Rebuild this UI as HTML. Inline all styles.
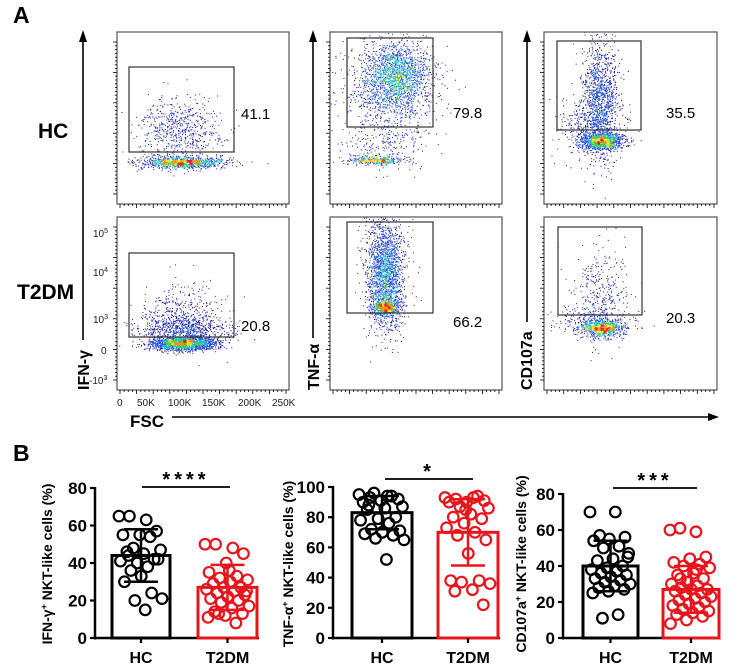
<!DOCTYPE html>
<html><head><meta charset="utf-8"><style>
html,body{margin:0;padding:0;background:#fff;}
svg{display:block;font-family:"Liberation Sans",Arial,sans-serif;}
</style></head><body>
<svg id="s" width="739" height="668" viewBox="0 0 739 668" xmlns="http://www.w3.org/2000/svg">
<defs id="defs"></defs>
<g id="dots"></g>
<g id="fg" stroke="#000" fill="none"></g>
<g font-weight="bold" fill="#000">
<text x="13" y="23" font-size="23">A</text>
<text x="13" y="461" font-size="23">B</text>
<text x="38" y="138" font-size="21">HC</text>
<text x="17" y="299" font-size="21">T2DM</text>
<text x="130" y="427" font-size="17">FSC</text>
<text transform="translate(89,390) rotate(-90)" font-size="16">IFN-γ</text>
<text transform="translate(319,390) rotate(-90)" font-size="16">TNF-α</text>
<text transform="translate(532,390) rotate(-90)" font-size="16">CD107a</text>
</g>
<g font-size="15" fill="#000">
<text x="241" y="119">41.1</text><text x="241" y="331">20.8</text>
<text x="453" y="118">79.8</text><text x="453" y="327">66.2</text>
<text x="666" y="118">35.5</text><text x="666" y="323">20.3</text>
</g>
<g font-size="10" fill="#222">
<text x="93" y="237">10<tspan dy="-4" font-size="7">5</tspan></text>
<text x="93" y="276">10<tspan dy="-4" font-size="7">4</tspan></text>
<text x="93" y="323">10<tspan dy="-4" font-size="7">3</tspan></text>
<text x="101" y="354">0</text>
<text x="89" y="384">-10<tspan dy="-4" font-size="7">3</tspan></text>
<text x="117" y="406">0</text><text x="137" y="406">50K</text><text x="168" y="406">100K</text>
<text x="202" y="406">150K</text><text x="238" y="406">200K</text><text x="272" y="406">250K</text>
</g>
<g id="bar"></g>
</svg>
<script>
var NS="http://www.w3.org/2000/svg";
function el(p,t,a){var e=document.createElementNS(NS,t);for(var k in a)e.setAttribute(k,a[k]);p.appendChild(e);return e;}
var fg=document.getElementById('fg'),dots=document.getElementById('dots'),bar=document.getElementById('bar'),defs=document.getElementById('defs');
var seed=7;function rnd(){seed=(seed*16807)%2147483647;return seed/2147483647;}
function gau(){var u=rnd()||1e-6,v=rnd();return Math.sqrt(-2*Math.log(u))*Math.cos(2*Math.PI*v);}
var cols=[[117,289],[330,502],[544,717]],rows=[[32,204],[217,390]];
cols.forEach(function(c){rows.forEach(function(r){
 el(fg,'rect',{x:c[0],y:r[0],width:c[1]-c[0],height:r[1]-r[0],'stroke-width':1.2,stroke:'#555'});
 for(var i=0;i<=40;i++){var x=c[0]+3+i*(c[1]-c[0]-6)/40;el(fg,'line',{x1:x,x2:x,y1:r[1],y2:r[1]+(i%4==0?4:2),'stroke-width':0.8});}
 for(var i=0;i<=40;i++){var y=r[0]+10+i*(r[1]-r[0]-20)/40;el(fg,'line',{y1:y,y2:y,x1:c[0],x2:c[0]-(i%8==0?4:2),'stroke-width':0.8});}
});});
[[129,67,234,152],[129,253,234,337],[347,38,433,127],[347,222,433,313],[557,41,641,130],[558,227,642,315]].forEach(function(g){
 el(fg,'rect',{x:g[0],y:g[1],width:g[2]-g[0],height:g[3]-g[1],'stroke-width':1.2,stroke:'#333'});});
function arrowV(x,y2){el(fg,'line',{x1:x,x2:x,y1:40,y2:y2,'stroke-width':1.6});el(fg,'polygon',{points:(x-4)+',42 '+(x+4)+',42 '+x+',30',fill:'#000',stroke:'none'});}
arrowV(83,340);arrowV(313,338);arrowV(527,322);
el(fg,'line',{x1:172,x2:710,y1:417,y2:417,'stroke-width':1.6});
el(fg,'polygon',{points:'708,413 708,421 719,417',fill:'#000',stroke:'none'});
var pid=0;
function panel(box,list){var pts=[],grid={};
 list.forEach(function(c){for(var i=0;i<c[4];i++){var x=c[0]+gau()*c[2],y=c[1]+gau()*c[3];pts.push([x,y]);var k=Math.floor(x/3)+'_'+Math.floor(y/3);grid[k]=(grid[k]||0)+1;}});
 var mx=0;for(var k in grid)mx=Math.max(mx,grid[k]);
 pid++;defs.insertAdjacentHTML('beforeend','<clipPath id="c'+pid+'"><rect x="'+box[0]+'" y="'+box[1]+'" width="'+(box[2]-box[0])+'" height="'+(box[3]-box[1])+'"/></clipPath>');
 var s='<g clip-path="url(#c'+pid+')">';pts.forEach(function(p){var d=grid[Math.floor(p[0]/3)+'_'+Math.floor(p[1]/3)]/mx;
  var col=d>0.85?'#e02818':d>0.7?'#f09020':d>0.58?'#e0e020':d>0.45?'#50c840':d>0.3?'#20b8c8':d>0.12?'#2050d8':'#1a1a9a';
  s+='<rect x="'+p[0].toFixed(1)+'" y="'+p[1].toFixed(1)+'" width="1" height="1" fill="'+col+'"/>';});
 dots.insertAdjacentHTML('beforeend',s+'</g>');}
panel([117,32,289,204],[[182,162,22,3,1000],[180,130,20,16,600]]);
panel([117,217,289,390],[[183,343,16,3.5,1500],[183,330,24,8,700],[182,315,20,16,400]]);
panel([330,32,502,204],[[398,76,16,16,1400],[385,88,24,28,700],[374,160,13,2,350],[385,140,20,14,200]]);
panel([330,217,502,390],[[386,307,6,4,500],[385,275,9,28,1700],[384,255,12,30,300]]);
panel([544,32,717,204],[[601,141,11,4,1000],[600,100,9,30,1200],[590,125,18,15,350]]);
panel([544,217,717,390],[[602,328,9,4,700],[600,295,14,25,350],[592,322,20,7,300]]);
function chart(o){var ax=o.ax,y0=638,sc=(y0-o.ytop)/o.max,Y=function(v){return y0-v*sc;};
 el(bar,'line',{x1:ax,x2:ax,y1:Y(o.max)-1,y2:y0+1.5,stroke:'#000','stroke-width':2.5});
 el(bar,'line',{x1:ax-1,x2:o.xe,y1:y0,y2:y0,stroke:'#000','stroke-width':2.5});
 for(var v=0;v<=o.max;v+=20){el(bar,'line',{x1:ax-5,x2:ax,y1:Y(v),y2:Y(v),stroke:'#000','stroke-width':2.2});
  var t=el(bar,'text',{x:ax-8,y:Y(v)+6,'text-anchor':'end','font-size':17,'font-weight':'bold'});t.textContent=v;}
 var t=el(bar,'text',{transform:'translate('+o.lx+',564) rotate(-90)','text-anchor':'middle','font-size':14,'font-weight':'bold'});t.innerHTML=o.lab;
 o.bars.forEach(function(b,i){var col=i?'#e8141c':'#000',cx=(b.x0+b.x1)/2;
  el(bar,'rect',{x:b.x0,y:Y(b.m),width:b.x1-b.x0,height:y0-Y(b.m),fill:'none',stroke:col,'stroke-width':3});
  el(bar,'line',{x1:cx,x2:cx,y1:y0,y2:y0+5,stroke:'#000','stroke-width':2.2});
  var tl=el(bar,'text',{x:cx,y:663,'text-anchor':'middle','font-size':16,'font-weight':'bold'});tl.textContent=i?'T2DM':'HC';
  var w=b.x1-b.x0;b.v.forEach(function(v,j){var x=b.x0+7+((j*0.618)%1)*(w-14);
   el(bar,'circle',{cx:x,cy:Y(v),r:5.3,fill:'none',stroke:col,'stroke-width':2.2});});
  el(bar,'line',{x1:cx,x2:cx,y1:Y(b.m-b.sd),y2:Y(b.m+b.sd),stroke:col,'stroke-width':2.5});
  [b.m-b.sd,b.m+b.sd].forEach(function(v){el(bar,'line',{x1:cx-17,x2:cx+17,y1:Y(v),y2:Y(v),stroke:col,'stroke-width':2.5});});
 });
 el(bar,'line',{x1:o.sx[0],x2:o.sx[1],y1:o.sy,y2:o.sy,stroke:'#000','stroke-width':1.8});
 var st=el(bar,'text',{x:(o.sx[0]+o.sx[1])/2,y:o.sy-1,'text-anchor':'middle','font-size':20,'font-weight':'bold','letter-spacing':4});st.textContent=o.star;
}
chart({ax:95,ytop:488,max:80,xe:259,lx:52,lab:'IFN-γ<tspan dy="-5" font-size="9">+</tspan><tspan dy="5"> NKT-like cells (%)</tspan>',sx:[142,230],sy:487,star:'****',
 bars:[{x0:112,x1:170,m:44,sd:14,v:[65,63,65,57,55,55,54,48,47,45,46,42,40,41,38,36,42,33,30,24,20,21,15,44]},
       {x0:198,x1:257,m:27,sd:12,v:[50,48,50,45,40,35,33,32,31,30,29,27,27,26,25,24,23,22,21,20,19,17,16,14,13,12,11,8,13,25,36]}]});
chart({ax:333,ytop:487,max:100,xe:500,lx:293,lab:'TNF-α<tspan dy="-5" font-size="9">+</tspan><tspan dy="5"> NKT-like cells (%)</tspan>',sx:[385,473],sy:479,star:'*',
 bars:[{x0:352,x1:412,m:83,sd:11,v:[95,94,93,92,91,90,94,96,87,86,85,80,79,78,76,72,71,70,69,68,66,65,52,88]},
       {x0:438,x1:498,m:70,sd:22,v:[93,93,92,91,90,90,94,87,86,82,80,79,76,73,70,68,65,56,38,38,37,36,32,31,22,85]}]});
chart({ax:563,ytop:494,max:80,xe:720,lx:526,lab:'CD107a<tspan dy="-5" font-size="9">+</tspan><tspan dy="5"> NKT-like cells (%)</tspan>',sx:[613,697],sy:488,star:'***',
 bars:[{x0:583,x1:638,m:40,sd:14,v:[70,70,57,56,55,54,51,50,47,44,43,40,39,38,37,36,35,34,33,32,31,30,29,28,27,26,25,13,11,45]},
       {x0:663,x1:719,m:27,sd:13,v:[60,59,61,45,44,42,41,40,39,36,35,33,31,30,29,28,27,27,26,25,24,23,22,21,20,19,18,17,16,15,14,13,12,10,8,38,33]}]});
</script>
</body></html>
